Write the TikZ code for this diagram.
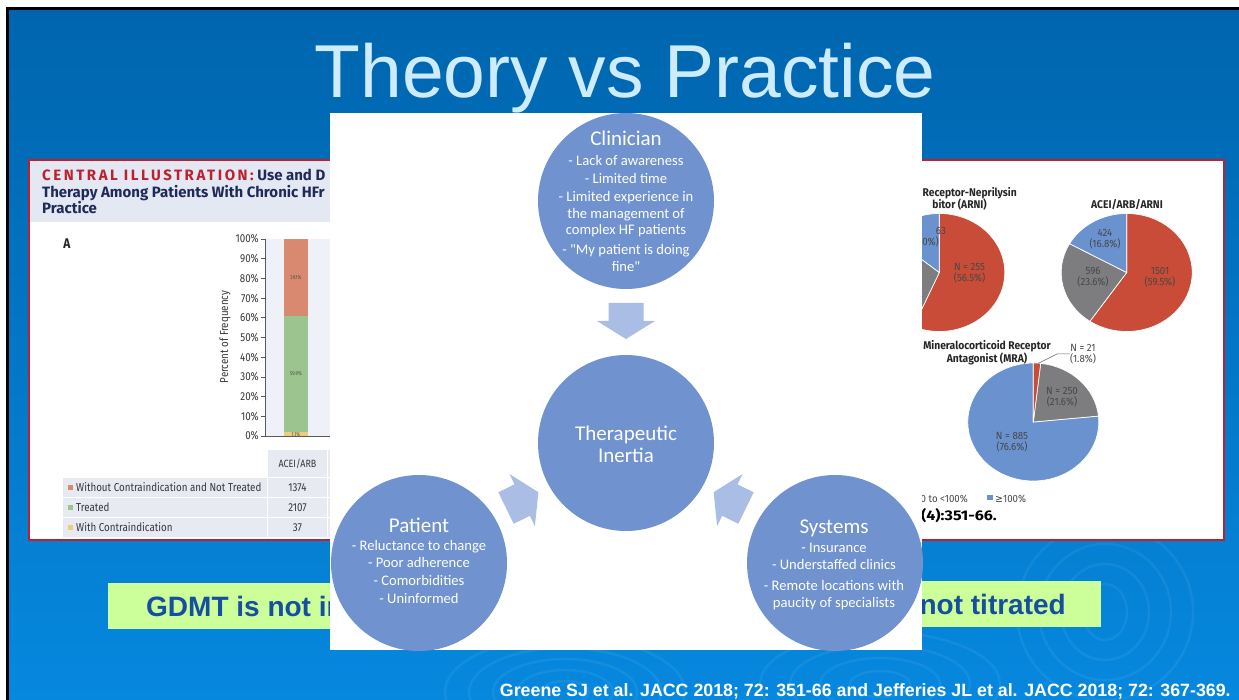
\documentclass[tikz,border=0pt]{standalone}
\usepackage{fontspec}
\setmainfont{Liberation Sans}
\newfontfamily\calfont{Carlito}
\newfontfamily\jaccfont{Fira Sans}[FakeStretch=0.85]
\newfontfamily\jaccmid{Fira Sans}[FakeStretch=0.92]
\newfontfamily\jacchead{Fira Sans}[FakeStretch=1.15]
\newfontfamily\jaccplain{Fira Sans}
\newfontfamily\symfont{DejaVu Sans}[FakeStretch=0.9]

\definecolor{slidetop}{RGB}{0,101,174}
\definecolor{slidebot}{RGB}{6,136,222}
\definecolor{titleblue}{RGB}{206,236,255}
\definecolor{bubblefill}{RGB}{112,146,206}
\definecolor{chevronblue}{RGB}{170,189,229}
\definecolor{lime}{RGB}{204,255,153}
\definecolor{gdmtblue}{RGB}{22,78,160}
\definecolor{jaccred}{RGB}{190,32,46}
\definecolor{jaccnavy}{RGB}{30,42,88}
\definecolor{headerbg}{RGB}{228,232,243}
\definecolor{plotbg}{RGB}{238,241,248}
\definecolor{cellbg}{RGB}{231,234,241}
\definecolor{barred}{RGB}{216,137,112}
\definecolor{bargreen}{RGB}{156,196,142}
\definecolor{baryellow}{RGB}{235,205,125}
\definecolor{piered}{RGB}{200,76,56}
\definecolor{piegray}{RGB}{125,125,128}
\definecolor{pieblue}{RGB}{106,146,207}
\definecolor{charttext}{RGB}{55,55,60}

% block arrow pointing along the local x axis, tail at the origin
\tikzset{chevron/.pic={\fill[chevronblue] (0,-17.5) -- (18,-17.5) -- (18,-29) -- (36,0) -- (18,29) -- (18,17.5) -- (0,17.5) -- cycle;}}

\begin{document}
\begin{tikzpicture}[x=1pt, y=-1pt,
  bubble/.style={circle, fill=bubblefill, minimum size=176pt, inner sep=0pt},
  bhead/.style={anchor=base, inner sep=0pt, text=white, font=\calfont\fontsize{21}{24}\selectfont},
  btext/.style={anchor=base, inner sep=0pt, text=white, font=\calfont\fontsize{14.6}{17}\selectfont},
  jlab/.style={inner sep=0pt, text=charttext, font=\jaccfont\fontsize{11.5}{13}\selectfont},
  jrow/.style={inner sep=0pt, text=charttext, font=\jaccfont\fontsize{11.5}{13}\selectfont},
  jbold/.style={inner sep=0pt, text=black!85, font=\jaccmid\bfseries\fontsize{11.2}{12}\selectfont},
  jhead/.style={inner sep=0pt, anchor=base west, text=jaccnavy, font=\jaccplain\bfseries\fontsize{15}{17}\selectfont},
  barlab/.style={inner sep=0pt, text=black!70, font=\jaccfont\fontsize{5.5}{6}\selectfont},
  pielab/.style={inner sep=0pt, align=center, text=black!72, font=\jaccmid\fontsize{10.5}{11}\selectfont},
  gdmt/.style={inner sep=0pt, text=gdmtblue, font=\bfseries\fontsize{28}{30}\selectfont},
  wedgeline/.style={draw=white, line width=0.7pt},
]
\useasboundingbox (0,0) rectangle (1239,700);

% slide background with its frame
\fill[white] (0,0) rectangle (1239,700);
\fill[black] (6,7) rectangle (1239,700);
\shade[top color=slidetop, bottom color=slidebot] (9,11) rectangle (1239,700);

% faint ripple rings
\begin{scope}
  \clip (9,11) rectangle (1239,700);
  \begin{scope}[white, opacity=0.06, line width=2.5pt]
    \foreach \r in {1,...,4} \draw (1105,612) ellipse [x radius=22*\r, y radius=20*\r+8];
    \foreach \r in {1,...,5} \draw (565,692) ellipse [x radius=24*\r, y radius=11*\r];
    \foreach \r in {1,...,4} \draw (880,684) ellipse [x radius=30*\r, y radius=13*\r];
  \end{scope}
\end{scope}

% ---------- left figure: bar chart ----------
\begin{scope}
  \clip (27,158) rectangle (331,543);
  \fill[white] (28,159) rectangle (345,541);
  \fill[headerbg] (29,160) rectangle (345,222);
  \draw[jaccred, line width=1.6pt] (28.8,159.8) rectangle (345,540.2);
  \node[jhead] (cihead) at (42,181) {\textcolor{jaccred}{\addfontfeature{LetterSpace=17}CENTRAL ILLUSTRATION:} Use and D};
  \node[jhead] (cisub) at (42,198) {Therapy Among Patients With Chronic HFr};
  \node[jhead] (cipract) at (42,214) {Practice};
  \node[inner sep=0pt, text=black!85, font=\jaccfont\bfseries\fontsize{14}{16}\selectfont] (panelA) at (67,244) {A};
  % plot area and bar
  \fill[plotbg] (265,239) rectangle (345,436);
  \fill[barred] (284,239) rectangle (308,316);
  \fill[bargreen] (284,316) rectangle (308,432);
  \fill[baryellow] (284,432) rectangle (308,436);
  \node[barlab] (pct391) at (296,278) {39.1\%};
  \node[barlab] (pct599) at (296,374) {59.9\%};
  \node[barlab] (pct11) at (296,434.5) {1.1\%};
  \draw[black!65, line width=0.7pt] (265,239) -- (265,436) -- (345,436);
  \foreach \n in {0,...,10} {
    \draw[black!65, line width=0.6pt] (261,{436-19.7*\n}) -- (265,{436-19.7*\n});
    \node[jlab, anchor=east] (tick\n) at (259,{436-19.7*\n}) {\the\numexpr\n*10\relax\%};
  }
  \node[jlab, rotate=90] (yaxis) at (225,337) {Percent of Frequency};
  % table below the chart
  \fill[cellbg] (268.3,450) rectangle (326.7,476.7);
  \node[jrow, font=\jaccfont\fontsize{10.5}{12}\selectfont] (colhead) at (297.5,463.5) {ACEI/ARB};
  \foreach \top in {478.3,498.3,518.3} {
    \fill[cellbg] (63.3,\top) rectangle (266.7,\top+18.4);
    \fill[cellbg] (268.3,\top) rectangle (326.7,\top+18.4);
    \fill[cellbg] (328.3,\top) rectangle (345,\top+18.4);
  }
  \fill[cellbg] (328.3,450) rectangle (345,476.7);
  \fill[barred] (68,485) rectangle (73,490);
  \fill[bargreen] (68,505) rectangle (73,510);
  \fill[baryellow] (68,525) rectangle (73,530);
  \node[jrow, anchor=west] (rownt) at (76,487.5) {Without Contraindication and Not Treated};
  \node[jrow, anchor=west] (rowtr) at (76,507.5) {Treated};
  \node[jrow, anchor=west] (rowci) at (76,527.5) {With Contraindication};
  \node[jrow] (valnt) at (297.5,487.5) {1374};
  \node[jrow] (valtr) at (297.5,507.5) {2107};
  \node[jrow] (valci) at (297.5,527.5) {37};
\end{scope}

% ---------- right figure: pie charts ----------
\begin{scope}
  \clip (921,158) rectangle (1228,543);
  \fill[white] (900,159) rectangle (1225,541);
  \draw[jaccred, line width=1.6pt] (900,159.8) rectangle (1224.2,540.2);
  % ARNI pie
  \begin{scope}[shift={(939.3,272.5)}, xscale=1.11]
    \fill[piered, wedgeline] (0,0) -- (-90:59) arc[start angle=-90, end angle=113.4, radius=59] -- cycle;
    \fill[piegray, wedgeline] (0,0) -- (113.4:59) arc[start angle=113.4, end angle=219.6, radius=59] -- cycle;
    \fill[pieblue, wedgeline] (0,0) -- (219.6:59) arc[start angle=219.6, end angle=270, radius=59] -- cycle;
  \end{scope}
  \node[jbold, anchor=base west] (arnit1) at (922.5,197) {Receptor-Neprilysin};
  \node[jbold, anchor=base east] (arnit2) at (987,209) {bitor (ARNI)};
  \node[pielab] (n255) at (969.5,273) {N = 255\\(56.5\%)};
  \node[pielab, anchor=base east] (n63a) at (946,235) {63};
  \node[pielab, anchor=base east] (n63b) at (939,245.5) {(14.0\%)};
  % ACEI/ARB/ARNI pie
  \begin{scope}[shift={(1126.7,272.5)}, xscale=1.11]
    \fill[piered, wedgeline] (0,0) -- (-90:59) arc[start angle=-90, end angle=124.2, radius=59] -- cycle;
    \fill[piegray, wedgeline] (0,0) -- (124.2:59) arc[start angle=124.2, end angle=209.2, radius=59] -- cycle;
    \fill[pieblue, wedgeline] (0,0) -- (209.2:59) arc[start angle=209.2, end angle=270, radius=59] -- cycle;
  \end{scope}
  \node[jbold, anchor=base] (aceit) at (1127,209) {ACEI/ARB/ARNI};
  \node[pielab] (n424) at (1105,239) {424\\(16.8\%)};
  \node[pielab] (n596) at (1093,277.5) {596\\(23.6\%)};
  \node[pielab] (n1501) at (1160,277.5) {1501\\(59.5\%)};
  % MRA pie
  \begin{scope}[shift={(1033.3,422)}, xscale=1.11]
    \fill[pieblue, wedgeline] (0,0) -- (-5.76:59) arc[start angle=-5.76, end angle=270, radius=59] -- cycle;
    \fill[piegray, wedgeline] (0,0) -- (-83.52:59) arc[start angle=-83.52, end angle=-5.76, radius=59] -- cycle;
    \fill[piered, wedgeline] (0,0) -- (-90:59) arc[start angle=-90, end angle=-83.52, radius=59] -- cycle;
  \end{scope}
  \node[jbold, align=center, font=\jaccmid\bfseries\fontsize{11.2}{10.8}\selectfont] (mrat) at (987,353) {Mineralocorticoid Receptor\\Antagonist (MRA)};
  \node[pielab] (n21) at (1083,354) {N = 21\\(1.8\%)};
  \coordinate (mraedge) at (1038,363.5);
  \draw[black!60, line width=0.5pt] (mraedge) -- (1057,354) -- (n21.west);
  \node[pielab] (n250) at (1062,397) {N = 250\\(21.6\%)};
  \node[pielab] (n885) at (1012,442) {N = 885\\(76.6\%)};
  % legend and citation
  \node[pielab, anchor=base east] (leg50) at (968,502) {50 to <100\%};
  \fill[pieblue] (987,494.5) rectangle (992.5,500);
  \node[pielab, anchor=base west] (leg100) at (995,502) {{\symfont ≥}100\%};
  \node[inner sep=0pt, anchor=base west, text=black, font=\jacchead\bfseries\fontsize{14}{16}\selectfont] (cite) at (921,520) {(4):351-66.};
\end{scope}

% ---------- green call-outs ----------
\fill[lime] (108,583) rectangle (345,629);
\node[gdmt, anchor=base west] (gdmtl) at (146,616.5) {GDMT is not in};
\fill[lime] (905,581) rectangle (1101,627);
\node[gdmt, anchor=base east] (gdmtr) at (1066,614) {not titrated};

% ---------- central panel: therapeutic inertia ----------
\fill[white] (330,113) rectangle (922,650);
\node[bubble] (clin) at (626,201) {};
\node[bubble] (inert) at (626,443) {};
\node[bubble] (pat) at (419,563) {};
\node[bubble] (sys) at (835,563) {};

\pic[rotate=-90] at (626,303) {chevron};
\pic[rotate=26] at (506,508) {chevron};
\pic[rotate=154] at (746,508) {chevron};

\node[bhead] (clinh) at (626,146) {Clinician};
\foreach \yy/\txt [count=\i] in {166/- Lack of awareness, 183.5/- Limited time, 202/- Limited experience in, 218.5/the management of, 235/complex HF patients, 255/- "My patient is doing, 272/fine"}
  \node[btext] (clin\i) at (626,\yy) {\txt};

\node[bhead] (inerth1) at (626,440) {Therapeutic};
\node[bhead] (inerth2) at (626,462) {Inertia};

\node[bhead] (path) at (419,532) {Patient};
\foreach \yy/\txt [count=\i] in {550/- Reluctance to change, 567.5/- Poor adherence, 585/- Comorbidities, 603/- Uninformed}
  \node[btext] (pat\i) at (419,\yy) {\txt};

\node[bhead] (sysh) at (834,533) {Systems};
\foreach \yy/\txt [count=\i] in {552/- Insurance, 569.5/- Understaffed clinics, 590/- Remote locations with, 607/paucity of specialists}
  \node[btext] (sys\i) at (834,\yy) {\txt};

% ---------- footer and title ----------
\node[inner sep=0pt, anchor=base east, text=white, font=\bfseries\fontsize{17.8}{20}\selectfont] (refs) at (1231,696) {Greene SJ et al. JACC 2018; 72: 351-66 and Jefferies JL et al. JACC 2018; 72: 367-369.};
\node[inner sep=0pt, anchor=base, text=titleblue, font=\fontsize{75}{80}\selectfont] (title) at (625,98) {Theory vs Practice};
\end{tikzpicture}
\end{document}
